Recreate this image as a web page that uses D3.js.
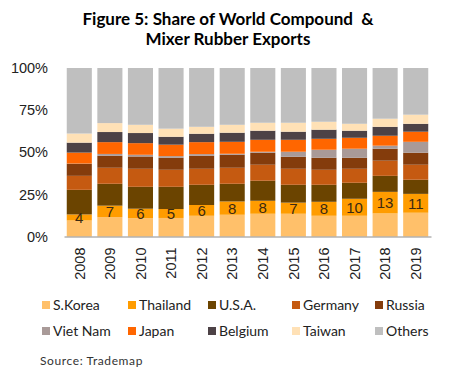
<!DOCTYPE html>
<html>
<head>
<meta charset="utf-8">
<script src="https://cdn.jsdelivr.net/npm/d3@7"></script>
<style>
  body { margin: 0; background: #fff; }
  svg { display: block; }
</style>
</head>
<body>
<svg id="chart"></svg>
<script>
// Data (share of exports, %)
const years = ['2008', '2009', '2010', '2011', '2012', '2013', '2014', '2015', '2016', '2017', '2018', '2019'];
const countries = ['S.Korea', 'Thailand', 'U.S.A.', 'Germany', 'Russia', 'Viet Nam', 'Japan', 'Belgium', 'Taiwan', 'Others'];

const sKorea   = [9.5, 11.5, 10.9, 11.0, 12.3, 12.9, 13.5, 13.5, 12.3, 12.3, 13.7, 14.1];
const thailand = [3.6, 6.8, 5.6, 5.3, 6.4, 7.9, 7.7, 6.6, 8.3, 10.1, 12.8, 11.2];
const usa      = [14.6, 13.0, 13.0, 13.2, 12.0, 10.5, 11.9, 10.6, 10.1, 9.5, 9.5, 8.4];
const germany  = [8.3, 9.5, 10.7, 10.1, 9.5, 9.5, 9.5, 9.5, 8.9, 8.3, 9.0, 8.9];
const russia   = [7.2, 7.1, 7.3, 7.1, 7.7, 7.7, 7.1, 7.1, 7.1, 6.5, 7.1, 7.1];
const vietNam  = [0.1, 1.1, 1.0, 1.0, 1.0, 0.6, 0.6, 3.0, 4.8, 5.4, 1.8, 6.5];
const japan    = [6.5, 7.0, 6.9, 6.8, 7.1, 7.1, 7.1, 7.1, 6.5, 6.5, 5.9, 6.0];
const belgium  = [5.9, 6.0, 6.0, 4.7, 5.0, 5.4, 5.4, 4.8, 5.4, 4.2, 5.3, 4.7];
const taiwan   = [5.4, 5.3, 4.9, 4.8, 4.1, 4.7, 4.7, 5.3, 4.7, 4.1, 4.8, 5.4];
const others   = [38.9, 32.7, 33.7, 36.0, 34.9, 33.7, 32.5, 32.5, 31.9, 33.1, 30.1, 27.7];

const yTicks = [0, 25, 50, 75, 100];

const colors = ['#ffc06a', '#ff9c00', '#6b4400', '#c55a11', '#843c0c', '#a99a98', '#ff6600', '#4d4246', '#ffe1b6', '#bfbfbf'];

const series = [sKorea, thailand, usa, germany, russia, vietNam, japan, belgium, taiwan, others];

// Build table rows for d3.stack
const rows = years.map((y, i) => {
    let r = { year: y };
    countries.forEach((c, j) => { r[c] = series[j][i]; });
    return r;
});

const width = 449, height = 376;
const margin = { top: 68, bottom: 139.5, left: 64, right: 18 };

const svg = d3.select('#chart')
    .attr('width', width)
    .attr('height', height);

// Title
const title = svg.append('text')
    .attr('x', 228)
    .attr('y', 25)
    .attr('text-anchor', 'middle')
    .attr('font-family', 'Lato, sans-serif')
    .attr('font-weight', 'bold')
    .attr('font-size', '17px')
    .attr('fill', '#000');
title.append('tspan').attr('x', 228).text('Figure 5: Share of World Compound \u00a0&');
title.append('tspan').attr('x', 228).attr('dy', 20).text('Mixer Rubber Exports');

const chart = svg.append('g');

const xScale = d3.scaleBand()
    .domain(years)
    .range([margin.left, width - margin.right])
    .paddingInner(0.18)
    .paddingOuter(0.09);

const yScale = d3.scaleLinear()
    .domain([0, 100])
    .range([height - margin.bottom, margin.top]);

const stacked = d3.stack().keys(countries)(rows);

chart.selectAll('.layer')
    .data(stacked)
    .join('g')
        .attr('class', 'layer')
        .attr('fill', (d, i) => colors[i])
    .selectAll('rect')
    .data(d => d)
    .join('rect')
        .attr('x', d => xScale(d.data.year))
        .attr('y', d => yScale(d[1]))
        .attr('width', xScale.bandwidth())
        .attr('height', d => yScale(d[0]) - yScale(d[1]));

// Thailand value labels
const thaiLayer = stacked[1];
chart.selectAll('.thaiLabel')
    .data(thaiLayer)
    .join('text')
        .attr('class', 'thaiLabel')
        .attr('x', d => xScale(d.data.year) + xScale.bandwidth() / 2)
        .attr('y', d => yScale((d[0] + d[1]) / 2))
        .attr('dy', '0.36em')
        .attr('text-anchor', 'middle')
        .attr('font-family', 'Liberation Sans, Arial, sans-serif')
        .attr('font-size', '15px')
        .attr('fill', '#3b2a12')
        .text(d => d3.format('.0f')(d.data['Thailand']));

// Axes
const yAxis = d3.axisLeft(yScale)
    .tickValues(yTicks)
    .tickFormat(d => d + '%')
    .tickSize(0)
    .tickPadding(16);

const yAxisG = svg.append('g')
    .attr('transform', `translate(${margin.left},0)`)
    .call(yAxis);
yAxisG.select('.domain').remove();
yAxisG.selectAll('text')
    .attr('font-family', 'Liberation Sans, Arial, sans-serif')
    .attr('font-size', '14.5px')
    .attr('fill', '#222');

const xAxis = d3.axisBottom(xScale)
    .tickSize(0)
    .tickSizeOuter(0);

const xAxisG = svg.append('g')
    .attr('transform', `translate(0,${height - margin.bottom})`)
    .call(xAxis);
xAxisG.select('.domain')
    .attr('stroke', '#8c8c8c')
    .attr('stroke-width', 1);
xAxisG.selectAll('text')
    .attr('transform', 'rotate(-90)')
    .attr('x', -11)
    .attr('y', 0)
    .attr('dy', '0.36em')
    .attr('text-anchor', 'end')
    .attr('font-family', 'Liberation Sans, Arial, sans-serif')
    .attr('font-size', '14.5px')
    .attr('fill', '#222');

// Legend: 2 rows x 5 columns
const legendCols = [42, 128, 208, 292, 375];
const legendRows = [305, 331];

const legend = svg.selectAll('.legendItem')
    .data(countries)
    .join('g')
        .attr('class', 'legendItem')
        .attr('transform', (d, i) => `translate(${legendCols[i % 5]},${legendRows[Math.floor(i / 5)]})`);

legend.append('rect')
    .attr('x', 0)
    .attr('y', -4)
    .attr('width', 8)
    .attr('height', 8)
    .attr('fill', (d, i) => colors[i]);

legend.append('text')
    .attr('x', 11)
    .attr('y', 0)
    .attr('dy', '0.36em')
    .attr('font-family', 'Lato, sans-serif')
    .attr('font-size', '14px')
    .attr('fill', '#222')
    .text(d => d);

// Source
svg.append('text')
    .attr('x', 40)
    .attr('y', 365)
    .attr('font-family', 'Lato, sans-serif')
    .attr('font-size', '12px')
    .attr('letter-spacing', '0.6px')
    .attr('fill', '#333')
    .text('Source: Trademap');
</script>
</body>
</html>
